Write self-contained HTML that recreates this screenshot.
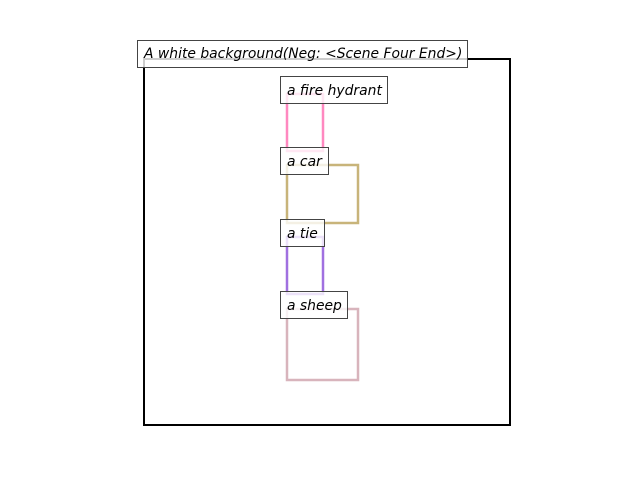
<!DOCTYPE html>
<html><head><meta charset="utf-8"><style>html,body{margin:0;padding:0;background:#fff}svg{display:block}</style></head>
<body>
<svg width="640" height="480" xmlns="http://www.w3.org/2000/svg" font-family="DejaVu Sans, Liberation Sans, sans-serif" font-style="italic" font-size="13.9">
<rect x="144" y="59" width="366" height="366" fill="none" stroke="#000" stroke-width="2"/>
<rect x="287" y="94" width="36" height="57" fill="none" stroke="#ff88c0" stroke-width="2.5"/>
<rect x="287" y="165" width="71" height="58" fill="none" stroke="#c8b47a" stroke-width="2.5"/>
<rect x="287" y="237" width="36" height="57" fill="none" stroke="#a070e0" stroke-width="2.5"/>
<rect x="287" y="309" width="71" height="71" fill="none" stroke="#d8b4bc" stroke-width="2.5"/>
<g fill="#fff" fill-opacity="0.8" stroke="#444" stroke-width="1">
<rect x="137.5" y="40.5" width="330" height="27"/>
<rect x="280.5" y="76.5" width="107" height="27"/>
<rect x="280.5" y="147.5" width="48" height="27"/>
<rect x="280.5" y="219.5" width="44" height="27"/>
<rect x="280.5" y="291.5" width="67" height="27"/>
</g>
<g fill="#000">
<text x="144" y="58">A white background(Neg: &lt;Scene Four End&gt;)</text>
<text x="287" y="95">a fire hydrant</text>
<text x="287" y="166">a car</text>
<text x="287" y="238">a tie</text>
<text x="287" y="310">a sheep</text>
</g>
</svg>
</body></html>
